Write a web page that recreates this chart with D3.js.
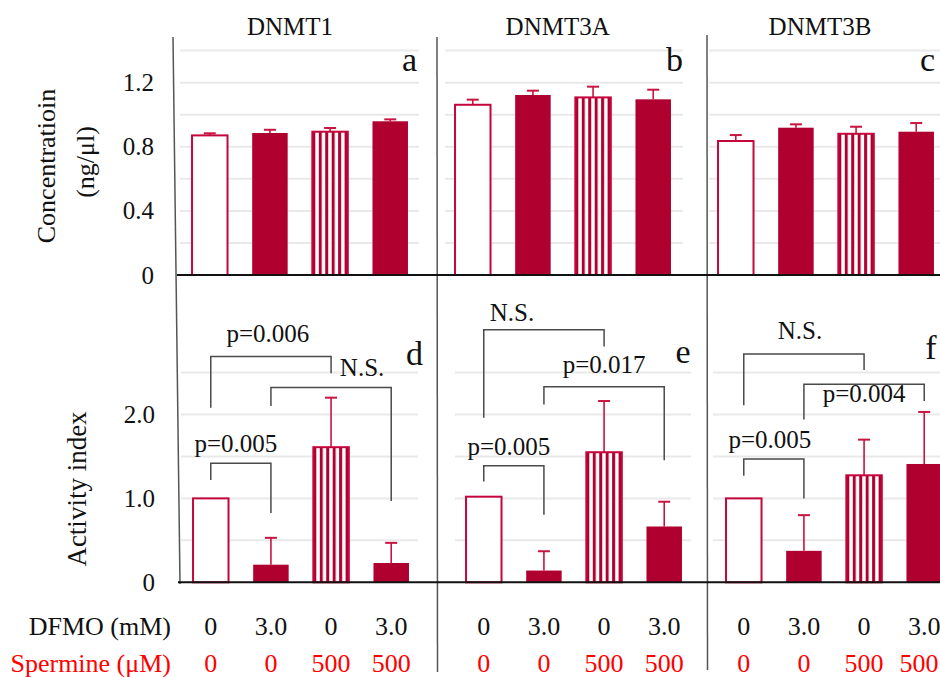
<!DOCTYPE html>
<html>
<head>
<meta charset="utf-8">
<script src="https://cdn.jsdelivr.net/npm/d3@7"></script>
<style>
  body { margin: 0; background: #fff; }
  svg { display: block; }
  svg text { font-family: "Liberation Serif", "Times New Roman", Times, "DejaVu Serif", "Noto Serif", serif; }
</style>
</head>
<body>
<svg width="940" height="677"></svg>
<script>
// data
var genes = ["DNMT1", "DNMT3A", "DNMT3B"];
var topLetters = ["a", "b", "c"];
var bottomLetters = ["d", "e", "f"];
var groups = ["control", "DFMO", "spermine", "DFMO+spermine"];
var dfmoLabels = ["0", "3.0", "0", "3.0"];
var spermineLabels = ["0", "0", "500", "500"];

var concMean = [[0.871, 0.886, 0.894, 0.959], [1.062, 1.123, 1.108, 1.096], [0.836, 0.919, 0.881, 0.894]];
var concErr = [[0.013, 0.020, 0.023, 0.012], [0.032, 0.027, 0.067, 0.060], [0.037, 0.021, 0.044, 0.054]];
var actMean = [[1.0, 0.21, 1.61, 0.23], [1.02, 0.14, 1.55, 0.665], [1.0, 0.375, 1.275, 1.41]];
var actErr = [[0, 0.32, 0.59, 0.24], [0, 0.23, 0.61, 0.295], [0, 0.425, 0.425, 0.62]];

var concTicks = [0, 0.4, 0.8, 1.2];
var actTicks = [0, 1.0, 2.0];

// brackets: [panel, fromBar, toBar, leftLegEnd, top, rightLegEnd, label, labelY]
var brackets = [
  [0, 0, 1, 1.22, 1.42, 0.825, "p=0.005", 1.65],
  [0, 0, 2, 2.08, 2.69, 2.49, "p=0.006", 2.96],
  [0, 1, 3, 2.10, 2.32, 0.97, "N.S.", 2.56],
  [1, 0, 1, 1.20, 1.39, 0.805, "p=0.005", 1.62],
  [1, 0, 2, 1.96, 3.01, 2.81, "N.S.", 3.22],
  [1, 1, 3, 2.12, 2.33, 1.455, "p=0.017", 2.60],
  [2, 0, 1, 1.27, 1.47, 1.0, "p=0.005", 1.70],
  [2, 0, 2, 2.11, 2.72, 2.53, "N.S.", 3.0],
  [2, 1, 3, 1.94, 2.36, 2.16, "p=0.004", 2.25]
];
var labelNudge = [-5, -3, 31, -5, -32, 0, -4, -4, 0];

// layout
var svg = d3.select("svg");
var crimson = "#b0002f", outline = "#c4063c", errColor = "#c8143f";
var topRanges = [[180, 420], [443, 683], [706, 946]];
var botRanges = [[181, 421], [454, 694], [714, 954]];
var topGrid = [[180, 419], [445, 683], [709, 940]];
var botGrid = [[181, 418], [455, 691], [713, 940]];

var yTop = d3.scaleLinear().domain([0, 1.4]).range([275, 50.6]);
var yBot = d3.scaleLinear().domain([0, 2.5]).range([582.3, 372.5]);

var defs = svg.append("defs");
var pat = defs.append("pattern")
  .attr("id", "vstripe")
  .attr("patternUnits", "objectBoundingBox")
  .attr("patternContentUnits", "objectBoundingBox")
  .attr("width", 2 / 11).attr("height", 1);
pat.append("rect").attr("x", 0).attr("y", 0).attr("width", 1 / 11).attr("height", 1).attr("fill", crimson);
pat.append("rect").attr("x", 1 / 11).attr("y", 0).attr("width", 1 / 11).attr("height", 1).attr("fill", "#fff");

function barFill(i) {
  if (i == 0) return "#fff";
  if (i == 2) return "url(#vstripe)";
  return crimson;
}

function drawRow(y, ranges, grid, gridStep, gridMax, means, errs) {
  genes.forEach(function (g, p) {
    var x = d3.scaleBand().domain(groups).range(ranges[p]).paddingInner(0.41).paddingOuter(0.2);
    var gp = svg.append("g");

    gp.selectAll("line.grid")
      .data(d3.range(gridStep, gridMax + 0.001, gridStep))
      .enter().append("line")
      .attr("class", "grid")
      .attr("x1", grid[p][0]).attr("x2", grid[p][1])
      .attr("y1", function (d) { return y(d); })
      .attr("y2", function (d) { return y(d); })
      .attr("stroke", "#e9e9e9").attr("stroke-width", 2);

    var rows = groups.map(function (k, i) { return { k: k, i: i, v: means[p][i], e: errs[p][i] }; });

    gp.selectAll("line.err")
      .data(rows.filter(function (d) { return d.e > 0; }))
      .enter().append("line")
      .attr("x1", function (d) { return x(d.k) + x.bandwidth() / 2; })
      .attr("x2", function (d) { return x(d.k) + x.bandwidth() / 2; })
      .attr("y1", function (d) { return y(d.v); })
      .attr("y2", function (d) { return y(d.v + d.e); })
      .attr("stroke", errColor).attr("stroke-width", 1.6);

    gp.selectAll("line.cap")
      .data(rows.filter(function (d) { return d.e > 0; }))
      .enter().append("line")
      .attr("x1", function (d) { return x(d.k) + x.bandwidth() / 2 - 6; })
      .attr("x2", function (d) { return x(d.k) + x.bandwidth() / 2 + 6; })
      .attr("y1", function (d) { return y(d.v + d.e); })
      .attr("y2", function (d) { return y(d.v + d.e); })
      .attr("stroke", errColor).attr("stroke-width", 2);

    gp.selectAll("rect.bar")
      .data(rows)
      .enter().append("rect")
      .attr("x", function (d) { return x(d.k); })
      .attr("y", function (d) { return y(d.v); })
      .attr("width", x.bandwidth())
      .attr("height", function (d) { return y(0) - y(d.v); })
      .attr("fill", function (d) { return barFill(d.i); })
      .attr("stroke", function (d) { return d.i == 0 || d.i == 2 ? outline : "none"; })
      .attr("stroke-width", 2);
  });
}

drawRow(yTop, topRanges, topGrid, 0.2, 1.4, concMean, concErr);
drawRow(yBot, botRanges, botGrid, 0.5, 2.5, actMean, actErr);

// axes frame
var axisColor = "#555";
svg.append("line").attr("x1", 173).attr("y1", 37).attr("x2", 180).attr("y2", 584)
  .attr("stroke", axisColor).attr("stroke-width", 1.5);
svg.append("line").attr("x1", 437).attr("y1", 37).attr("x2", 437.5).attr("y2", 672)
  .attr("stroke", axisColor).attr("stroke-width", 1.5);
svg.append("line").attr("x1", 707).attr("y1", 35).attr("x2", 707.5).attr("y2", 670)
  .attr("stroke", axisColor).attr("stroke-width", 1.5);
svg.append("line").attr("x1", 177).attr("x2", 940).attr("y1", yTop(0)).attr("y2", yTop(0))
  .attr("stroke", "#111").attr("stroke-width", 2);
svg.append("line").attr("x1", 178).attr("x2", 940).attr("y1", yBot(0)).attr("y2", yBot(0))
  .attr("stroke", "#111").attr("stroke-width", 2);

// y tick labels
var axTop = svg.append("g").attr("transform", "translate(160,0)")
  .call(d3.axisLeft(yTop).tickValues(concTicks).tickSize(0).tickPadding(6)
    .tickFormat(function (d) { return d == 0 ? "0" : d3.format(".1f")(d); }));
var axBot = svg.append("g").attr("transform", "translate(161,0)")
  .call(d3.axisLeft(yBot).tickValues(actTicks).tickSize(0).tickPadding(6)
    .tickFormat(function (d) { return d == 0 ? "0" : d3.format(".1f")(d); }));
[axTop, axBot].forEach(function (a) {
  a.attr("font-family", null);
  a.select(".domain").remove();
  a.selectAll("text").attr("font-size", 25).attr("fill", "#111");
});

// y titles
svg.append("text").attr("transform", "translate(46,166) rotate(-90)")
  .attr("text-anchor", "middle").attr("dy", "0.35em").attr("font-size", 26).attr("fill", "#111")
  .text("Concentratioin");
svg.append("text").attr("transform", "translate(85,162) rotate(-90)")
  .attr("text-anchor", "middle").attr("dy", "0.35em").attr("font-size", 26).attr("fill", "#111")
  .text("(ng/\u03bcl)");
svg.append("text").attr("transform", "translate(77,489) rotate(-90)")
  .attr("text-anchor", "middle").attr("dy", "0.35em").attr("font-size", 27).attr("fill", "#111")
  .text("Activity index");

// gene titles and panel letters
var titleX = [290, 557.7, 820];
var topLetterX = [417, 683, 935], botLetterX = [423, 690.7, 936.7], botLetterY = [365, 363.3, 359.3];
genes.forEach(function (g, p) {
  svg.append("text").attr("x", titleX[p]).attr("y", 35).attr("text-anchor", "middle")
    .attr("font-size", 25).attr("fill", "#111").text(g);
  svg.append("text").attr("x", topLetterX[p]).attr("y", 71).attr("text-anchor", "end")
    .attr("font-size", 34).attr("fill", "#111").text(topLetters[p]);
  svg.append("text").attr("x", botLetterX[p]).attr("y", botLetterY[p]).attr("text-anchor", "end")
    .attr("font-size", 34).attr("fill", "#111").text(bottomLetters[p]);
});

// significance brackets
brackets.forEach(function (b, i) {
  var x = d3.scaleBand().domain(groups).range(botRanges[b[0]]).paddingInner(0.41).paddingOuter(0.2);
  var xl = x(groups[b[1]]) + x.bandwidth() / 2, xr = x(groups[b[2]]) + x.bandwidth() / 2;
  var path = d3.path();
  path.moveTo(xl, yBot(b[3]));
  path.lineTo(xl, yBot(b[4]));
  path.lineTo(xr, yBot(b[4]));
  path.lineTo(xr, yBot(b[5]));
  svg.append("path").attr("d", path.toString()).attr("fill", "none")
    .attr("stroke", "#4a4a4a").attr("stroke-width", 1.5);
  svg.append("text").attr("x", (xl + xr) / 2 + labelNudge[i]).attr("y", yBot(b[7]))
    .attr("dy", "0.34em").attr("text-anchor", "middle").attr("font-size", 25).attr("fill", "#111")
    .text(b[6]);
});

// treatment rows
svg.append("text").attr("x", 171).attr("y", 635).attr("text-anchor", "end")
  .attr("font-size", 26).attr("fill", "#111").text("DFMO (mM)");
svg.append("text").attr("x", 171).attr("y", 671.7).attr("text-anchor", "end")
  .attr("font-size", 26).attr("fill", "#ff0000").text("Spermine (\u03bcM)");
genes.forEach(function (g, p) {
  var x = d3.scaleBand().domain(groups).range(botRanges[p]).paddingInner(0.41).paddingOuter(0.2);
  groups.forEach(function (k, i) {
    var cx = x(k) + x.bandwidth() / 2;
    svg.append("text").attr("x", cx).attr("y", 635).attr("text-anchor", "middle")
      .attr("font-size", 26).attr("fill", "#111").text(dfmoLabels[i]);
    svg.append("text").attr("x", Math.min(cx, 919)).attr("y", 671.7).attr("text-anchor", "middle")
      .attr("font-size", 26).attr("fill", "#ff0000").text(spermineLabels[i]);
  });
});
</script>
</body>
</html>
